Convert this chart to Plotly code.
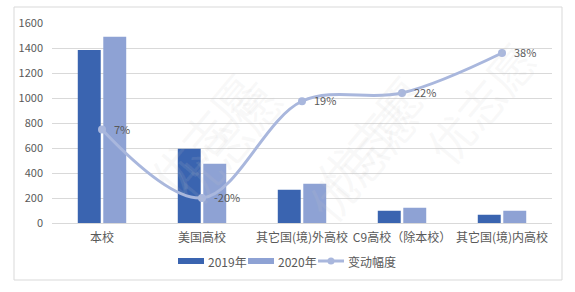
import plotly.graph_objects as go

categories = ["本校", "美国高校", "其它国(境)外高校", "C9高校（除本校）", "其它国(境)内高校"]
values_2019 = [1385, 595, 266, 98, 66]
values_2020 = [1490, 475, 314, 122, 98]
change = [0.074, -0.20, 0.187, 0.22, 0.38]
change_labels = ["7%", "-20%", "19%", "22%", "38%"]
y_ticks = [0, 200, 400, 600, 800, 1000, 1200, 1400, 1600]
series_names = ["2019年", "2020年", "变动幅度"]

FONT = "Noto Sans CJK SC, Liberation Sans, sans-serif"
GRAY = "#595959"
C2019 = "#3A64B0"
C2020 = "#8EA2D4"
CLINE = "#A9B7DD"

fig = go.Figure()
fig.add_trace(go.Bar(name=series_names[0], x=categories, y=values_2019,
                     marker=dict(color=C2019, line=dict(width=0))))
fig.add_trace(go.Bar(name=series_names[1], x=categories, y=values_2020,
                     marker=dict(color=C2020, line=dict(width=0))))
fig.add_trace(go.Scatter(name=series_names[2], x=categories, y=change, yaxis="y2",
                         mode="lines+markers",
                         line=dict(color=CLINE, width=3, shape="spline", smoothing=1.0),
                         marker=dict(color=CLINE, size=8),
                         cliponaxis=False))

# data labels for the change line
for cat, val, lab in zip(categories, change, change_labels):
    fig.add_annotation(text=lab, x=cat, y=val, xref="x", yref="y2",
                       xanchor="left", yanchor="middle", xshift=10, yshift=1,
                       showarrow=False, font=dict(size=11, color=GRAY, family=FONT))

# faint watermark
for (wx, wy) in [(0.16, 0.45), (0.62, 0.7), (0.78, 0.05), (0.35, 0.02), (1.0, 0.6)]:
    fig.add_annotation(text="优志愿", x=wx, y=wy, xref="paper", yref="paper",
                       showarrow=False, textangle=-50,
                       font=dict(size=46, color="rgba(200,200,200,0.12)", family=FONT))

def px(x):
    return (x - 52) / 500.0

def py(y):
    return (223 - y) / 200.0

# outer chart border
fig.add_shape(type="rect", xref="paper", yref="paper",
              x0=px(14), x1=px(562), y0=py(280), y1=py(7),
              line=dict(color="#D9D9D9", width=1), layer="below")

# custom legend
fig.add_shape(type="rect", xref="paper", yref="paper", x0=px(178), x1=px(204),
              y0=py(264), y1=py(258), fillcolor=C2019, line=dict(width=0))
fig.add_shape(type="rect", xref="paper", yref="paper", x0=px(248), x1=px(274),
              y0=py(264), y1=py(258), fillcolor=C2020, line=dict(width=0))
fig.add_shape(type="line", xref="paper", yref="paper", x0=px(318), x1=px(344),
              y0=py(261), y1=py(261), line=dict(color=CLINE, width=3))
fig.add_shape(type="circle", xref="paper", yref="paper", x0=px(327.5), x1=px(334.5),
              y0=py(264.5), y1=py(257.5), fillcolor=CLINE, line=dict(width=0))
for name, xpos in zip(series_names, [206, 276, 346]):
    fig.add_annotation(text=name, x=px(xpos), y=py(261), xref="paper", yref="paper",
                       xanchor="left", yanchor="middle", showarrow=False,
                       font=dict(size=12, color=GRAY, family=FONT))

fig.update_layout(
    width=575, height=292,
    margin=dict(l=52, r=23, t=23, b=69),
    paper_bgcolor="white", plot_bgcolor="white",
    barmode="group", bargap=0.49, bargroupgap=0.1,
    font=dict(family=FONT, color=GRAY, size=12),
    showlegend=False,
    xaxis=dict(showline=True, linecolor="#D9D9D9", linewidth=1, ticks="",
               tickfont=dict(size=12, color=GRAY), fixedrange=True,
               ticklabelstandoff=4),
    yaxis=dict(range=[0, 1600], tickvals=y_ticks, showgrid=True, gridcolor="#D9D9D9",
               zeroline=False, showline=False, tickfont=dict(size=11, color=GRAY),
               ticklabelstandoff=8),
    yaxis2=dict(overlaying="y", range=[-0.3, 0.5], visible=False),
)

fig.write_html("out.html")
